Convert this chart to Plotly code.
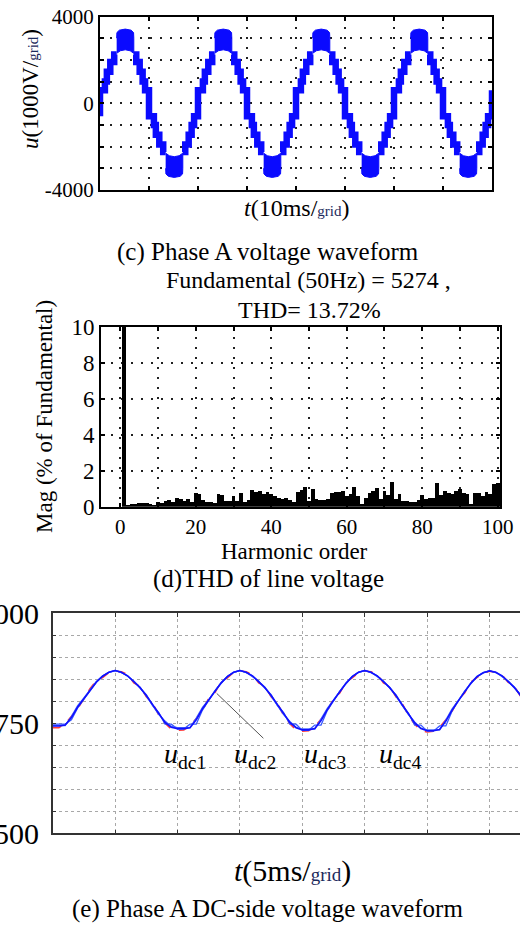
import plotly.graph_objects as go

W, H = 520, 930
FONT = "Liberation Serif, Times New Roman, serif"


def px(x):
    return x / W


def py(y):
    return 1 - y / H


# ---------------- Panel (c): phase A voltage waveform ----------------
half_period_ms = 10
n_halves = 8
stair_rise_t = [0.0, 1.0, 1.4, 2.1, 2.9, 3.4]
stair_rise_v = [600, 1000, 1450, 1900, 2250]
stair_fall_t = [6.9, 7.4, 8.1, 8.7, 9.2, 10.0]
stair_fall_v = [2250, 1900, 1450, 1000, 600]
blob_center = 5.15
blob_up_dt = [-1.75, -1.7, -1.2, 0.0, 1.2, 1.7, 1.75]
blob_up_v = [3000, 3260, 3370, 3420, 3370, 3260, 3000]
blob_lo_dt = [-1.75, -1.0, 0.0, 1.0, 1.75]
blob_lo_v = [2300, 2420, 2465, 2420, 2300]

# ---------------- Panel (d): harmonic spectrum ----------------
harm_order = list(range(1, 101))
harm_mag = [100,
            0.13, 0.15, 0.19, 0.22, 0.24, 0.22, 0.15, 0.13, 0.28,
            0.22, 0.33, 0.41, 0.28, 0.52, 0.46, 0.33, 0.43, 0.28, 0.78,
            0.70, 0.37, 0.28, 0.28, 0.24, 0.70, 0.65, 0.33, 0.33, 0.59,
            0.33, 0.78, 0.28, 0.37, 0.93, 0.83, 0.89, 0.74, 0.83, 0.74,
            0.59, 0.52, 0.46, 0.52, 0.37, 0.28, 0.83, 0.93, 1.10, 0.35,
            1.00, 0.46, 0.41, 0.41, 0.46, 0.78, 0.83, 0.83, 0.89, 0.59,
            0.70, 1.10, 0.59, 0.19, 0.52, 0.78, 0.89, 1.07, 0.46, 0.89,
            0.65, 1.39, 0.46, 0.74, 0.33, 0.33, 0.28, 0.28, 0.37, 0.65,
            0.46, 0.52, 0.52, 1.33, 0.65, 0.89, 0.78, 0.74, 0.89, 1.00,
            0.78, 0.70, 0.19, 0.78, 0.78, 0.59, 0.83, 0.74, 1.30, 1.33]

# ---------------- Panel (e): DC-side voltages ----------------
t_dc = [i * 0.5 for i in range(76)]
udc1 = [744, 744, 746, 763, 787, 806, 826, 844, 857, 866, 870, 866, 858, 845, 831, 813, 793, 772, 752, 741,
        738, 738, 740, 758, 783, 803, 823, 842, 856, 866, 870, 866, 858, 845, 831, 813, 793, 772, 752, 740,
        735, 735, 738, 756, 781, 802, 822, 841, 856, 866, 870, 866, 858, 845, 831, 813, 793, 772, 751, 738,
        733, 733, 736, 755, 780, 801, 822, 841, 856, 865, 869, 866, 858, 845, 831, 813]
udc2 = [740, 740, 749, 767, 783, 806, 829, 847, 854, 865, 869, 867, 861, 842, 834, 810, 796, 769, 750, 737,
        734, 735, 744, 761, 779, 807, 820, 845, 853, 866, 869, 867, 861, 842, 834, 810, 796, 768, 749, 735,
        732, 733, 743, 759, 778, 806, 819, 844, 853, 865, 869, 867, 861, 842, 834, 810, 795, 768, 748, 734,
        730, 732, 741, 758, 777, 804, 819, 844, 853, 864, 868, 866, 860, 843, 833, 811]
udc3 = [748, 748, 748, 758, 785, 805, 825, 843, 857, 866, 870, 866, 857, 846, 830, 815, 791, 774, 748, 748,
        737, 737, 748, 748, 780, 801, 824, 841, 857, 866, 870, 866, 857, 846, 830, 815, 791, 774, 748, 748,
        734, 734, 746, 746, 779, 800, 823, 840, 856, 866, 870, 866, 857, 846, 830, 815, 791, 773, 746, 746,
        732, 732, 744, 744, 778, 800, 823, 840, 856, 865, 869, 866, 857, 846, 830, 815]
udc4 = [745, 745, 745, 766, 790, 808, 827, 845, 858, 866, 870, 865, 858, 844, 832, 812, 792, 770, 755, 743,
        740, 740, 740, 762, 786, 804, 824, 843, 857, 866, 870, 865, 858, 844, 832, 812, 792, 770, 754, 741,
        737, 737, 737, 760, 784, 803, 823, 842, 857, 866, 870, 865, 858, 844, 832, 812, 792, 770, 753, 739,
        735, 735, 735, 758, 783, 802, 823, 842, 857, 865, 869, 865, 858, 844, 832, 812]
dc_labels = ["dc1", "dc2", "dc3", "dc4"]
dc_label_x = [185, 255, 325, 400]

fig = go.Figure()

# ---- build panel (c) stair path from read step times / levels ----
sx, sy = [], []
bx, by = [], []
for k in range(n_halves):
    s = 1 if k % 2 == 0 else -1
    t0 = k * half_period_ms
    if k == 0:
        sx.append(t0)
        sy.append(-s * stair_rise_v[0])
    for i, v in enumerate(stair_rise_v):
        sx.append(t0 + stair_rise_t[i]); sy.append(s * v)
    sx.append(t0 + stair_rise_t[-1]); sy.append(s * stair_rise_v[-1])
    sx.append(None); sy.append(None)
    for i, v in enumerate(stair_fall_v):
        sx.append(t0 + stair_fall_t[i]); sy.append(s * v)
    sx.append(t0 + stair_fall_t[-1]); sy.append(s * stair_fall_v[-1])
    tc = t0 + blob_center
    bx += [tc + d for d in blob_up_dt] + [tc + d for d in reversed(blob_lo_dt)] + [None]
    by += [s * v for v in blob_up_v] + [s * v for v in reversed(blob_lo_v)] + [None]
sx.append(n_halves * half_period_ms); sy.append(stair_rise_v[0])

BLUE = "#0a0aff"
fig.add_trace(go.Scatter(x=sx, y=sy, mode="lines", line=dict(color=BLUE, width=6.5, shape="hv"),
                         xaxis="x", yaxis="y", hoverinfo="skip", showlegend=False))
fig.add_trace(go.Scatter(x=bx, y=by, mode="lines", fill="toself", fillcolor=BLUE,
                         line=dict(color=BLUE, width=1), xaxis="x", yaxis="y",
                         hoverinfo="skip", showlegend=False))

# ---- panel (d) ----
fig.add_trace(go.Bar(x=harm_order, y=harm_mag, width=1.0, marker=dict(color="black", line=dict(width=0)),
                     xaxis="x2", yaxis="y2", showlegend=False))

# ---- panel (e) ----
fig.add_trace(go.Scatter(x=t_dc, y=udc2, mode="lines", line=dict(color="#ff3a3a", width=1.5, dash="dash"),
                         xaxis="x3", yaxis="y3", showlegend=False))
fig.add_trace(go.Scatter(x=t_dc, y=udc3, mode="lines", line=dict(color="#3a5aff", width=1.3),
                         xaxis="x3", yaxis="y3", showlegend=False))
fig.add_trace(go.Scatter(x=t_dc, y=udc4, mode="lines", line=dict(color="#4a6aff", width=1.3),
                         xaxis="x3", yaxis="y3", showlegend=False))
fig.add_trace(go.Scatter(x=t_dc, y=udc1, mode="lines", line=dict(color="#1010ff", width=1.6),
                         xaxis="x3", yaxis="y3", showlegend=False))

dotted_black = dict(showgrid=True, gridcolor="#222", griddash="2px,8px", gridwidth=1.5)
frame_black = dict(showline=True, linecolor="black", linewidth=2, mirror="ticks", ticks="inside",
                   ticklen=4, tickwidth=1.5, tickcolor="black", zeroline=False, automargin=False)

c_yvals = list(range(-4000, 4001, 1000))
c_ytext = ["-4000" if v == -4000 else "0" if v == 0 else "4000" if v == 4000 else " " for v in c_yvals]
d_xvals = list(range(0, 101, 10))
d_xtext = [str(v) if v % 20 == 0 else " " for v in d_xvals]
e_yvals = list(range(500, 1001, 50))
e_ytext = [str(v) if v in (500, 750, 1000) else " " for v in e_yvals]

fig.update_layout(
    width=W, height=H, margin=dict(l=0, r=0, t=0, b=0, pad=0, autoexpand=False),
    paper_bgcolor="white", plot_bgcolor="white",
    font=dict(family=FONT, color="black"),
    showlegend=False, bargap=0,
    xaxis=dict(domain=[px(100), px(492)], anchor="y", range=[0, 80], tickmode="array",
               tickvals=list(range(0, 81, 10)), showticklabels=False, **dotted_black, **frame_black),
    yaxis=dict(domain=[py(190), py(16.5)], anchor="x", range=[-4000, 4000], tickmode="array",
               tickvals=c_yvals, ticktext=c_ytext, tickfont=dict(size=21), **dotted_black, **frame_black),
    xaxis2=dict(domain=[px(101), px(500)], anchor="y2", range=[-5.1, 100.6], tickmode="array",
                tickvals=d_xvals, ticktext=d_xtext, tickfont=dict(size=21), **dotted_black, **frame_black),
    yaxis2=dict(domain=[py(506.7), py(326.7)], anchor="x2", range=[0, 10], tickmode="array",
                tickvals=list(range(0, 11, 2)), tickfont=dict(size=23), **dotted_black, **frame_black),
    xaxis3=dict(domain=[px(52.7), 1], anchor="y3", range=[0, 37.44], tickmode="array",
                tickvals=list(range(0, 36, 5)), showticklabels=False, showgrid=True, gridcolor="#a8a8a8",
                griddash="dot", gridwidth=1, showline=True, linecolor="#333", linewidth=1.5,
                mirror="ticks", ticks="inside", ticklen=4, tickcolor="#333", zeroline=False,
                automargin=False),
    yaxis3=dict(domain=[py(833.3), py(613.3)], anchor="x3", range=[500, 1000], tickmode="array",
                tickvals=e_yvals, ticktext=e_ytext, tickfont=dict(size=30), showgrid=True,
                gridcolor="#a8a8a8", griddash="dot", gridwidth=1, showline=True, linecolor="#333",
                linewidth=1.5, mirror=False, ticks="inside", ticklen=4, tickcolor="#333",
                zeroline=False, ticklabelstandoff=6, automargin=False),
)

GRID_SPAN = "<span style='font-size:{}px;color:#1c2a5c'>grid</span>"
ann = [
    dict(x=px(30), y=py(89), text="<i>u</i>(1000V/" + GRID_SPAN.format(15) + ")", textangle=-90, size=23),
    dict(x=px(297), y=py(208), text="<i>t</i>(10ms/" + GRID_SPAN.format(15) + ")", size=24),
    dict(x=px(268), y=py(252), text="(c) Phase A voltage waveform", size=25),
    dict(x=px(308), y=py(280), text="Fundamental (50Hz) = 5274 ,", size=24),
    dict(x=px(309), y=py(310), text="THD= 13.72%", size=24),
    dict(x=px(44), y=py(417), text="Mag (% of Fundamental)", textangle=-90, size=23),
    dict(x=px(294), y=py(551), text="Harmonic order", size=23),
    dict(x=px(268), y=py(579), text="(d)THD of line voltage", size=25),
    dict(x=px(292), y=py(871), text="<i>t</i>(5ms/" + GRID_SPAN.format(19) + ")", size=30),
    dict(x=px(267), y=py(909), text="(e) Phase A DC-side voltage waveform", size=25),
]
for lab, xc in zip(dc_labels, dc_label_x):
    ann.append(dict(x=px(xc), y=py(755), text="<i>u</i><sub>" + lab + "</sub>", size=28))

fig.update_layout(annotations=[
    dict(x=a["x"], y=a["y"], xref="paper", yref="paper", text=a["text"], showarrow=False,
         xanchor="center", yanchor="middle", textangle=a.get("textangle", 0),
         font=dict(family=FONT, size=a["size"], color="black"))
    for a in ann
])

fig.add_shape(type="line", xref="x3", yref="y3", x0=13.14, y0=818, x1=16.88, y1=716,
              line=dict(color="#555", width=1))

fig.write_html("out.html", config={"displayModeBar": False},
               post_script="document.body.style.margin='0px';document.body.style.overflow='hidden';")
